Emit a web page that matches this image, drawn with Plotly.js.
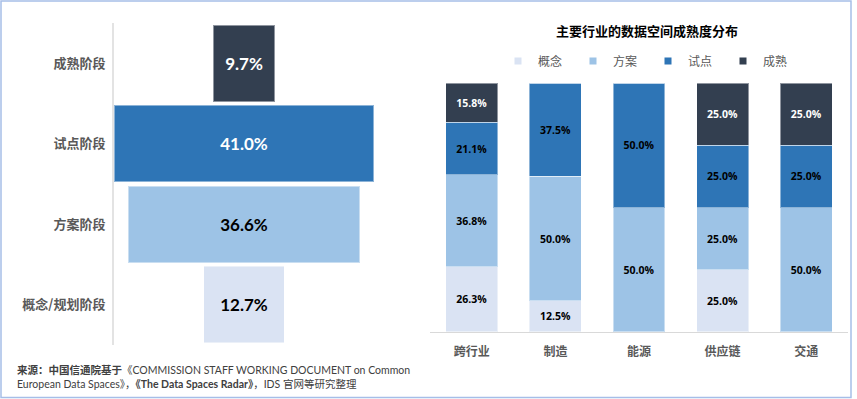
<!DOCTYPE html>
<html>
<head>
<meta charset="utf-8">
<script src="https://cdn.plot.ly/plotly-3.0.1.min.js"></script>
<style>
  html, body { margin: 0; padding: 0; background: #fff; }
  #chart { width: 857px; height: 399px; }
</style>
</head>
<body>
<div id="chart"></div>
<script>
// ---- Left: stage distribution (funnel-like) ----
const stageLabels = ['成熟阶段', '试点阶段', '方案阶段', '概念/规划阶段'];
const stageValues = [9.7, 41.0, 36.6, 12.7];
const stageColors = ['#333F50', '#2E75B6', '#9DC3E6', '#DAE3F3'];
const stageTextColors = ['#FFFFFF', '#FFFFFF', '#000000', '#000000'];

// ---- Right: maturity by industry (stacked, %) ----
const industries = ['跨行业', '制造', '能源', '供应链', '交通'];
const seriesNames = ['概念', '方案', '试点', '成熟'];
const concept = [26.3, 12.5, 0, 25.0, 0];
const plan    = [36.8, 50.0, 50.0, 25.0, 50.0];
const pilot   = [21.1, 37.5, 50.0, 25.0, 25.0];
const mature  = [15.8, 0, 0, 25.0, 25.0];
const seriesValues = [concept, plan, pilot, mature];
const seriesColors = ['#DAE3F3', '#9DC3E6', '#2E75B6', '#333F50'];
const seriesTextColors = ['#000000', '#000000', '#000000', '#FFFFFF'];

const chartTitle = '主要行业的数据空间成熟度分布';
const sourceText = '<b>来源：中国信通院基于</b>《COMMISSION STAFF WORKING DOCUMENT on Common<br>European Data Spaces》，<b>《The Data Spaces Radar》</b>，IDS 官网等研究整理';

const W = 857, H = 399;
const px = x => x / W;
const py = y => 1 - y / H;

const cjk = '"Noto Sans CJK SC", "Noto Sans", sans-serif';
const geo = 'Lato, "Noto Sans CJK SC", sans-serif';
const num = '"Open Sans", "Noto Sans", sans-serif';

const traces = [];

traces.push({
  type: 'bar',
  orientation: 'h',
  y: stageLabels,
  x: stageValues,
  base: stageValues.map(v => -v / 2),
  width: 0.955,
  marker: { color: stageColors, line: { color: 'rgba(255,255,255,0.45)', width: 1.5 } },
  text: stageValues.map(v => v.toFixed(1) + '%'),
  textposition: 'inside',
  insidetextanchor: 'middle',
  textangle: 0,
  textfont: { family: geo, size: 17, color: stageTextColors, weight: 'bold' },
  xaxis: 'x', yaxis: 'y',
  showlegend: false,
  hoverinfo: 'skip'
});

seriesNames.forEach((name, i) => {
  traces.push({
    type: 'bar',
    name: name,
    x: industries,
    y: seriesValues[i],
    width: 0.62,
    marker: { color: seriesColors[i], line: { color: 'rgba(255,255,255,0.45)', width: 1.2 } },
    text: seriesValues[i].map(v => v > 0 ? v.toFixed(1) + '%' : ''),
    textposition: 'inside',
    insidetextanchor: 'middle',
    textangle: 0,
    textfont: { family: num, size: 10.5, color: seriesTextColors[i], weight: 'bold' },
    xaxis: 'x2', yaxis: 'y2',
    showlegend: false,
    hoverinfo: 'skip'
  });
});

// legend entries (small square keys) for the stacked series
seriesNames.forEach((name, i) => {
  traces.push({
    type: 'scatter',
    mode: 'markers',
    name: name,
    x: [null], y: [null],
    marker: { symbol: 'square', size: 7, color: seriesColors[i] },
    xaxis: 'x2', yaxis: 'y2',
    showlegend: true,
    hoverinfo: 'skip'
  });
});

const layout = {
  width: W, height: H,
  margin: { l: 0, r: 0, t: 0, b: 0, autoexpand: false },
  paper_bgcolor: '#FFFFFF',
  plot_bgcolor: '#FFFFFF',
  barmode: 'stack',
  showlegend: true,
  font: { family: cjk, color: '#595959' },
  xaxis: {
    domain: [px(114), px(374)],
    range: [-20.5, 20.5],
    visible: false,
    automargin: false,
    fixedrange: true
  },
  yaxis: {
    domain: [py(345), py(23)],
    type: 'category',
    autorange: 'reversed',
    showline: true, linecolor: '#E3E3E3', linewidth: 2,
    showgrid: false, zeroline: false, ticks: '',
    ticklabelstandoff: 4,
    automargin: false,
    tickfont: { family: cjk, size: 13, color: '#595959', weight: 'bold' },
    fixedrange: true
  },
  xaxis2: {
    domain: [px(430), px(848)],
    anchor: 'y2',
    type: 'category',
    showline: true, linecolor: '#D9D9D9', linewidth: 1,
    showgrid: false, zeroline: false, ticks: '',
    ticklabelstandoff: 9,
    automargin: false,
    tickfont: { family: cjk, size: 12, color: '#595959', weight: 'bold' },
    fixedrange: true
  },
  yaxis2: {
    domain: [py(332), py(83)],
    anchor: 'x2',
    range: [0, 100],
    visible: false,
    automargin: false,
    fixedrange: true
  },
  legend: {
    orientation: 'h',
    traceorder: 'normal',
    x: px(498), xanchor: 'left',
    y: py(61), yanchor: 'middle',
    entrywidth: 30, entrywidthmode: 'pixels',
    itemwidth: 30,
    font: { family: cjk, size: 12, color: '#595959' },
    bgcolor: 'rgba(0,0,0,0)'
  },
  annotations: [
    {
      text: '<b>' + chartTitle + '</b>',
      xref: 'paper', yref: 'paper',
      x: px(647), y: py(30), xanchor: 'center', yanchor: 'middle',
      showarrow: false,
      font: { family: cjk, size: 13, color: '#000000' }
    },
    {
      text: sourceText,
      xref: 'paper', yref: 'paper',
      x: px(15), y: py(377), xanchor: 'left', yanchor: 'middle',
      align: 'left',
      showarrow: false,
      font: { family: geo, size: 10.5, color: '#404040' }
    }
  ],
  shapes: [
    {
      type: 'rect', xref: 'paper', yref: 'paper',
      x0: px(1), x1: px(851), y0: py(397.5), y1: py(1),
      line: { color: '#A6BEE8', width: 1.5 },
      fillcolor: 'rgba(0,0,0,0)'
    }
  ]
};

Plotly.newPlot('chart', traces, layout, { displayModeBar: false, staticPlot: true });
</script>
</body>
</html>
